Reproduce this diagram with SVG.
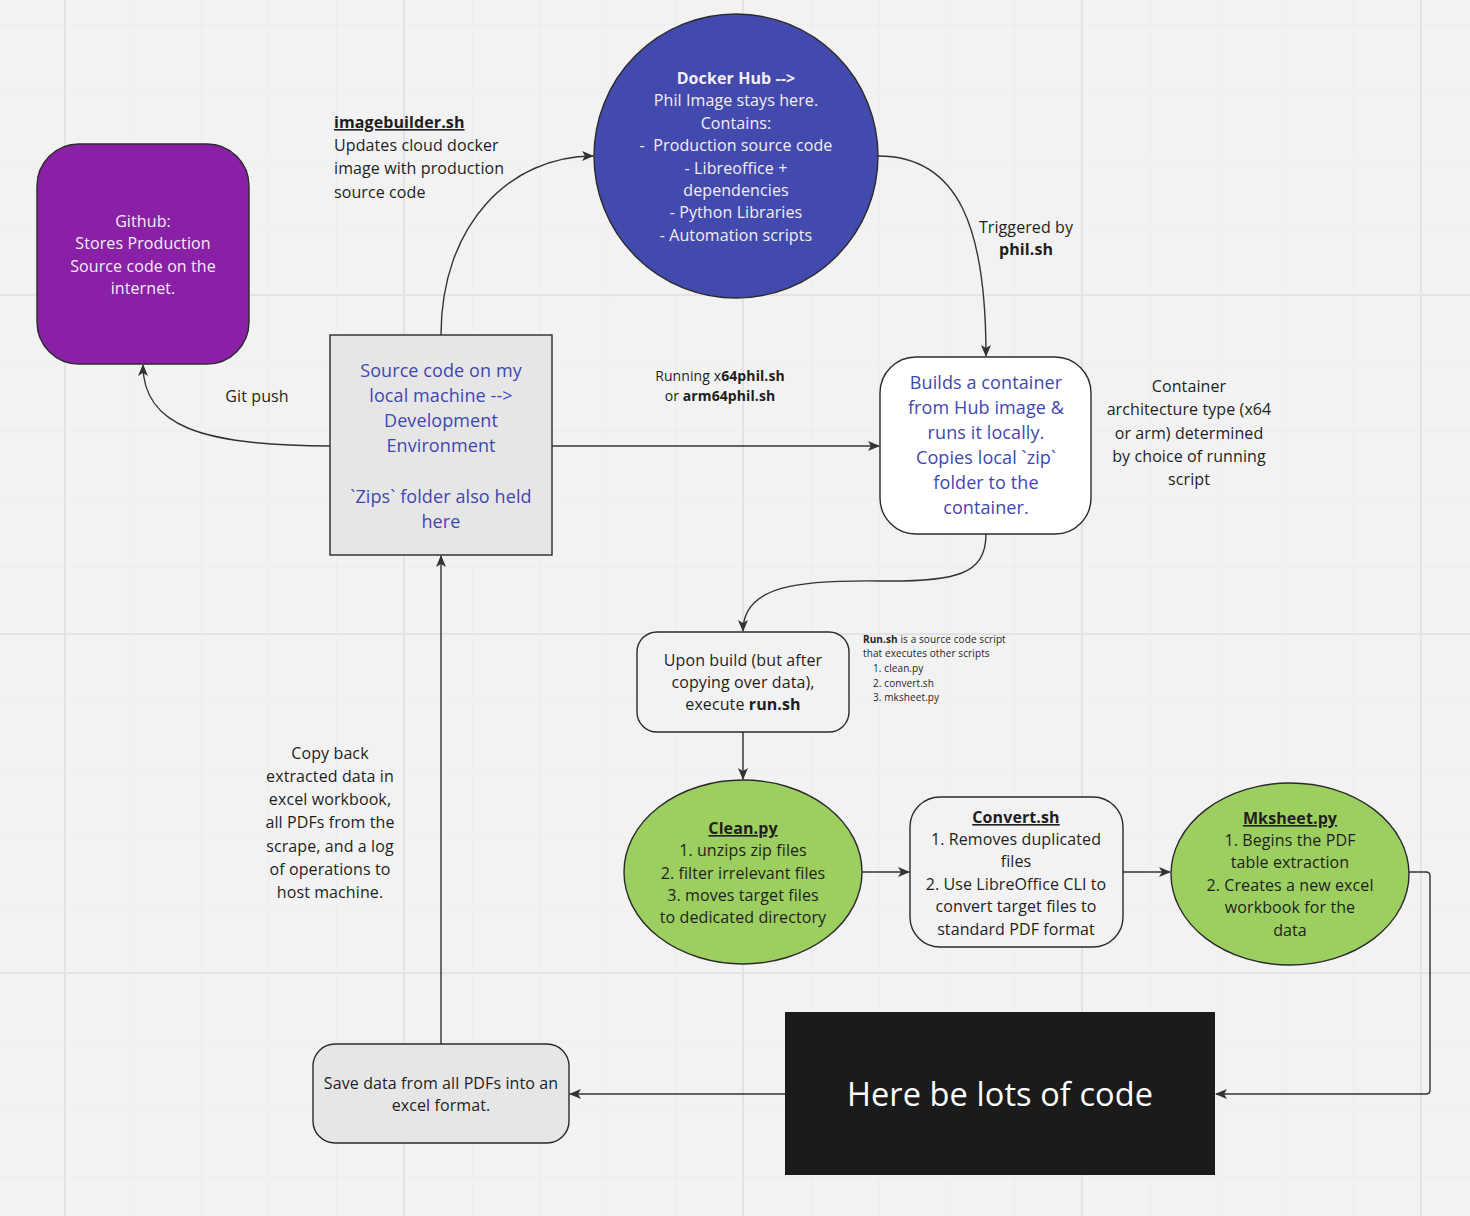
<svg xmlns="http://www.w3.org/2000/svg" width="1470" height="1216" viewBox="0 0 1470 1216">
<defs>
<pattern id="grid" x="65" y="24" width="67.8" height="67.8" patternUnits="userSpaceOnUse">
<path d="M0,0 H67.8 M0,0 V67.8" stroke="#ebebeb" stroke-width="1.5" fill="none"/>
</pattern>
<marker id="arr" viewBox="0 0 12 10" refX="11" refY="5" markerWidth="12" markerHeight="10" markerUnits="userSpaceOnUse" orient="auto">
<path d="M0,0 L12,5 L0,10 L3,5 z" fill="#333"/>
</marker>
<style>
text{font-family:"Open Sans","Noto Sans","DejaVu Sans",sans-serif;fill:#1e1e1e;font-size:16px;letter-spacing:0.1px}
.c{text-anchor:middle}
.w{fill:#f4eef6}
.b{fill:#3f47b0;font-size:18px}
.bold{font-weight:bold}
.u{text-decoration:underline;font-weight:bold}
.edge{fill:none;stroke:#333;stroke-width:1.4;marker-end:url(#arr)}
.node{stroke:#2a2a2a;stroke-width:1.4}
</style>
</defs>
<rect width="1470" height="1216" fill="#f2f2f2"/>
<rect width="1470" height="1216" fill="url(#grid)"/>
<g stroke="#e3e3e3" stroke-width="2">
<path d="M65,0 V1216 M404,0 V1216 M743,0 V1216 M1082,0 V1216 M1421,0 V1216 M0,295 H1470 M0,634 H1470 M0,973 H1470"/>
</g>

<g id="connectors">
<path class="edge" d="M441,335 C441,225 510,156 593,156"/>
<path class="edge" d="M878,156 C960,156 986,230 986,356"/>
<path class="edge" d="M552,446 H879"/>
<path class="edge" d="M330,446 C200,446 143,425 143,365"/>
<path class="edge" d="M986,534 C986,575 955,582 880,581 C800,580 743,585 743,631"/>
<path class="edge" d="M743,732 V779"/>
<path class="edge" d="M862,872 H909"/>
<path class="edge" d="M1123,872 H1170"/>
<path class="edge" d="M1409,872 H1426 Q1430,872 1430,876 V1090 Q1430,1094 1426,1094 H1216"/>
<path class="edge" d="M785,1094 H570"/>
<path class="edge" d="M441,1044 V556"/>
</g>

<g id="github">
<rect class="node" x="37" y="144" width="212" height="220" rx="42" fill="#8a20a6"/>
<text class="c w" x="143"><tspan x="143" y="227">Github:</tspan><tspan x="143" y="249">Stores Production</tspan><tspan x="143" y="272">Source code on the</tspan><tspan x="143" y="294">internet.</tspan></text>
</g>

<g id="dockerhub">
<circle class="node" cx="736" cy="156" r="142" fill="#434aad"/>
<text class="c w" x="736"><tspan x="736" y="84" font-weight="bold">Docker Hub --&gt;</tspan><tspan x="736" y="106">Phil Image stays here.</tspan><tspan x="736" y="129">Contains:</tspan><tspan x="736" y="151" xml:space="preserve">-  Production source code</tspan><tspan x="736" y="174">- Libreoffice +</tspan><tspan x="736" y="196">dependencies</tspan><tspan x="736" y="218">- Python Libraries</tspan><tspan x="736" y="241">- Automation scripts</tspan></text>
</g>

<g id="imagebuilder-label">
<text x="334"><tspan x="334" y="128" class="u">imagebuilder.sh</tspan><tspan x="334" y="151">Updates cloud docker</tspan><tspan x="334" y="174">image with production</tspan><tspan x="334" y="198">source code</tspan></text>
</g>

<g id="source">
<rect class="node" x="330" y="335" width="222" height="220" fill="#e6e6e6"/>
<text class="c b" x="441"><tspan x="441" y="377">Source code on my</tspan><tspan x="441" y="402">local machine --&gt;</tspan><tspan x="441" y="427">Development</tspan><tspan x="441" y="452">Environment</tspan><tspan x="441" y="503">`Zips` folder also held</tspan><tspan x="441" y="528">here</tspan></text>
</g>

<g id="gitpush-label"><text class="c" x="257" y="402">Git push</text></g>

<g id="running-label">
<text class="c" style="font-size:14px"><tspan x="720" y="381">Running x<tspan font-weight="bold">64phil.sh</tspan></tspan><tspan x="720" y="401">or <tspan font-weight="bold">arm64phil.sh</tspan></tspan></text>
</g>

<g id="triggered-label">
<text class="c"><tspan x="1026" y="233">Triggered by</tspan><tspan x="1026" y="255" font-weight="bold">phil.sh</tspan></text>
</g>

<g id="builds">
<rect class="node" x="880" y="357" width="211" height="177" rx="36" fill="#ffffff"/>
<text class="c b"><tspan x="986" y="389">Builds a container</tspan><tspan x="986" y="414">from Hub image &amp;</tspan><tspan x="986" y="439">runs it locally.</tspan><tspan x="986" y="464">Copies local `zip`</tspan><tspan x="986" y="489">folder to the</tspan><tspan x="986" y="514">container.</tspan></text>
</g>

<g id="arch-label">
<text class="c"><tspan x="1189" y="392">Container</tspan><tspan x="1189" y="415">architecture type (x64</tspan><tspan x="1189" y="439">or arm) determined</tspan><tspan x="1189" y="462">by choice of running</tspan><tspan x="1189" y="485">script</tspan></text>
</g>

<g id="uponbuild">
<rect class="node" x="637" y="632" width="212" height="100" rx="20" fill="#f2f2f2"/>
<text class="c"><tspan x="743" y="666">Upon build (but after</tspan><tspan x="743" y="688">copying over data),</tspan><tspan x="743" y="710">execute <tspan font-weight="bold">run.sh</tspan></tspan></text>
</g>

<g id="runsh-note">
<text style="font-size:10px"><tspan x="863" y="643"><tspan font-weight="bold">Run.sh</tspan> is a source code script</tspan><tspan x="863" y="657">that executes other scripts</tspan><tspan x="873" y="672">1. clean.py</tspan><tspan x="873" y="687">2. convert.sh</tspan><tspan x="873" y="701">3. mksheet.py</tspan></text>
</g>

<g id="copyback-label">
<text class="c"><tspan x="330" y="759">Copy back</tspan><tspan x="330" y="782">extracted data in</tspan><tspan x="330" y="805">excel workbook,</tspan><tspan x="330" y="828">all PDFs from the</tspan><tspan x="330" y="852">scrape, and a log</tspan><tspan x="330" y="875">of operations to</tspan><tspan x="330" y="898">host machine.</tspan></text>
</g>

<g id="clean">
<ellipse class="node" cx="743" cy="872" rx="119" ry="92" fill="#9ccf60"/>
<text class="c"><tspan x="743" y="834" class="u">Clean.py</tspan><tspan x="743" y="856">1. unzips zip files</tspan><tspan x="743" y="879">2. filter irrelevant files</tspan><tspan x="743" y="901">3. moves target files</tspan><tspan x="743" y="923">to dedicated directory</tspan></text>
</g>

<g id="convert">
<rect class="node" x="910" y="797" width="213" height="150" rx="30" fill="#f2f2f2"/>
<text class="c"><tspan x="1016" y="823" class="u">Convert.sh</tspan><tspan x="1016" y="845">1. Removes duplicated</tspan><tspan x="1016" y="867">files</tspan><tspan x="1016" y="890">2. Use LibreOffice CLI to</tspan><tspan x="1016" y="912">convert target files to</tspan><tspan x="1016" y="935">standard PDF format</tspan></text>
</g>

<g id="mksheet">
<ellipse class="node" cx="1290" cy="874" rx="119" ry="91" fill="#9ccf60"/>
<text class="c"><tspan x="1290" y="824" class="u">Mksheet.py</tspan><tspan x="1290" y="846">1. Begins the PDF</tspan><tspan x="1290" y="868">table extraction</tspan><tspan x="1290" y="891">2. Creates a new excel</tspan><tspan x="1290" y="913">workbook for the</tspan><tspan x="1290" y="936">data</tspan></text>
</g>

<g id="code">
<rect x="785" y="1012" width="430" height="163" fill="#1b1b1b"/>
<text class="c" x="1000" y="1106" style="font-size:32.5px;fill:#ffffff">Here be lots of code</text>
</g>

<g id="save">
<rect class="node" x="313" y="1044" width="256" height="99" rx="22" fill="#e6e6e6"/>
<text class="c"><tspan x="441" y="1089">Save data from all PDFs into an</tspan><tspan x="441" y="1111">excel format.</tspan></text>
</g>
</svg>
